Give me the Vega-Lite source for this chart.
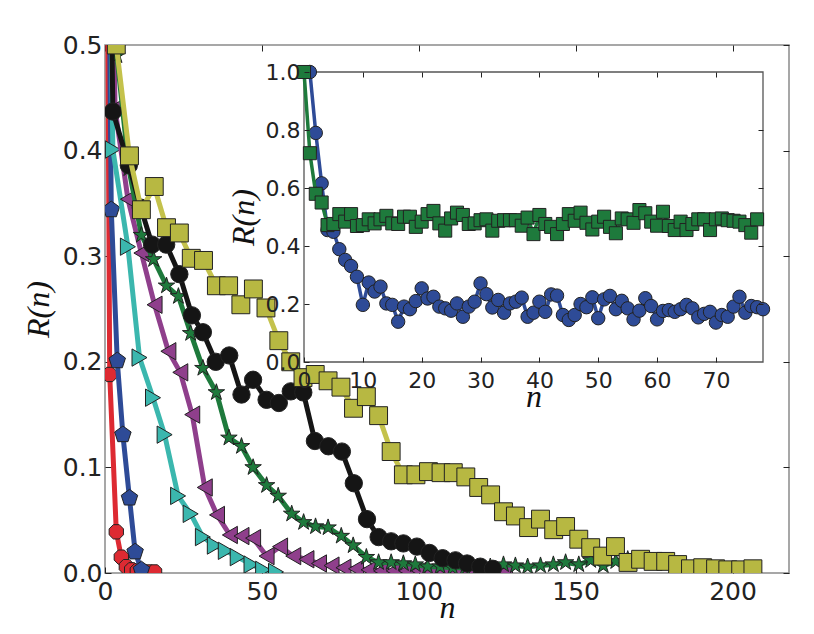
{
  "$schema": "https://vega.github.io/schema/vega-lite/v6.json",
  "width": 684,
  "height": 528,
  "autosize": "none",
  "padding": {"left": 105, "top": 45, "right": 25, "bottom": 61},
  "background": "white",
  "config": {
    "view": {"stroke": "#8a8a8a", "strokeWidth": 1.5},
    "axis": {
      "grid": false,
      "domain": false,
      "labelFont": "DejaVu Sans",
      "labelColor": "#222",
      "labelFlush": false,
      "labelOverlap": false,
      "tickColor": "#222",
      "tickWidth": 1,
      "titleFont": "Liberation Serif",
      "titleFontStyle": "italic",
      "titleFontWeight": "normal",
      "titleColor": "#111"
    }
  },
  "datasets": {
    "main": [
      {"s": "red", "n": 0, "R": 1}, {"s": "red", "n": 1.5, "R": 0.188}, {"s": "red", "n": 3.6, "R": 0.039}, {"s": "red", "n": 5.2, "R": 0.015}, {"s": "red", "n": 6.8, "R": 0.006}, {"s": "red", "n": 8.5, "R": 0.003}, {"s": "red", "n": 10.3, "R": 0.002}, {"s": "red", "n": 12.1, "R": 0.001}, {"s": "red", "n": 14, "R": 0.001}, {"s": "red", "n": 15.8, "R": 0.001},
      {"s": "blue", "n": 0, "R": 1}, {"s": "blue", "n": 2.0, "R": 0.344}, {"s": "blue", "n": 3.9, "R": 0.201}, {"s": "blue", "n": 5.7, "R": 0.131}, {"s": "blue", "n": 7.8, "R": 0.071}, {"s": "blue", "n": 9.6, "R": 0.02}, {"s": "blue", "n": 11.6, "R": 0.003},
      {"s": "cyan", "n": 0, "R": 1}, {"s": "cyan", "n": 2.5, "R": 0.401}, {"s": "cyan", "n": 7.3, "R": 0.309}, {"s": "cyan", "n": 11.0, "R": 0.204}, {"s": "cyan", "n": 15.3, "R": 0.166}, {"s": "cyan", "n": 19.0, "R": 0.131}, {"s": "cyan", "n": 23.3, "R": 0.073}, {"s": "cyan", "n": 27.3, "R": 0.056}, {"s": "cyan", "n": 31.2, "R": 0.034}, {"s": "cyan", "n": 35.0, "R": 0.026}, {"s": "cyan", "n": 38.5, "R": 0.021}, {"s": "cyan", "n": 42.3, "R": 0.015}, {"s": "cyan", "n": 46.7, "R": 0.008}, {"s": "cyan", "n": 50.4, "R": 0.003}, {"s": "cyan", "n": 54.5, "R": 0.001},
      {"s": "purple", "n": 0, "R": 1}, {"s": "purple", "n": 3.2, "R": 0.44}, {"s": "purple", "n": 7.3, "R": 0.354}, {"s": "purple", "n": 11.6, "R": 0.303}, {"s": "purple", "n": 15.8, "R": 0.254}, {"s": "purple", "n": 20.2, "R": 0.21}, {"s": "purple", "n": 24.0, "R": 0.19}, {"s": "purple", "n": 27.8, "R": 0.15}, {"s": "purple", "n": 31.8, "R": 0.081}, {"s": "purple", "n": 35.7, "R": 0.055}, {"s": "purple", "n": 39.8, "R": 0.036}, {"s": "purple", "n": 43.5, "R": 0.035}, {"s": "purple", "n": 47.2, "R": 0.033}, {"s": "purple", "n": 51.5, "R": 0.016}, {"s": "purple", "n": 55.8, "R": 0.025}, {"s": "purple", "n": 60.0, "R": 0.016}, {"s": "purple", "n": 64.2, "R": 0.013}, {"s": "purple", "n": 68.2, "R": 0.009}, {"s": "purple", "n": 72.2, "R": 0.007}, {"s": "purple", "n": 76.0, "R": 0.005}, {"s": "purple", "n": 80.0, "R": 0.004}, {"s": "purple", "n": 84.0, "R": 0.003}, {"s": "purple", "n": 88.0, "R": 0.002}, {"s": "purple", "n": 92.0, "R": 0.002}, {"s": "purple", "n": 96.0, "R": 0.002}, {"s": "purple", "n": 100.0, "R": 0.002}, {"s": "purple", "n": 104.0, "R": 0.001}, {"s": "purple", "n": 108.0, "R": 0.001}, {"s": "purple", "n": 112.0, "R": 0.001}, {"s": "purple", "n": 116.0, "R": 0.001}, {"s": "purple", "n": 120.0, "R": 0.001}, {"s": "purple", "n": 124.0, "R": 0.001}, {"s": "purple", "n": 127.5, "R": 0.001},
      {"s": "green", "n": 0, "R": 1}, {"s": "green", "n": 3.8, "R": 0.49}, {"s": "green", "n": 7.6, "R": 0.383}, {"s": "green", "n": 11.6, "R": 0.32}, {"s": "green", "n": 15.5, "R": 0.297}, {"s": "green", "n": 19.6, "R": 0.272}, {"s": "green", "n": 23.4, "R": 0.262}, {"s": "green", "n": 27.3, "R": 0.227}, {"s": "green", "n": 31.2, "R": 0.194}, {"s": "green", "n": 35.5, "R": 0.171}, {"s": "green", "n": 39.5, "R": 0.128}, {"s": "green", "n": 43.5, "R": 0.12}, {"s": "green", "n": 47.2, "R": 0.1}, {"s": "green", "n": 51.5, "R": 0.083}, {"s": "green", "n": 55.2, "R": 0.073}, {"s": "green", "n": 59.5, "R": 0.056}, {"s": "green", "n": 63.3, "R": 0.048}, {"s": "green", "n": 67.1, "R": 0.044}, {"s": "green", "n": 71.1, "R": 0.043}, {"s": "green", "n": 75.3, "R": 0.035}, {"s": "green", "n": 79.1, "R": 0.026}, {"s": "green", "n": 83.3, "R": 0.015}, {"s": "green", "n": 87.2, "R": 0.01}, {"s": "green", "n": 91.2, "R": 0.01}, {"s": "green", "n": 95.1, "R": 0.009}, {"s": "green", "n": 98.9, "R": 0.008}, {"s": "green", "n": 102.8, "R": 0.006}, {"s": "green", "n": 106.8, "R": 0.006}, {"s": "green", "n": 110.8, "R": 0.005}, {"s": "green", "n": 114.8, "R": 0.005}, {"s": "green", "n": 118.8, "R": 0.005}, {"s": "green", "n": 122.8, "R": 0.006}, {"s": "green", "n": 127.0, "R": 0.008}, {"s": "green", "n": 130.8, "R": 0.007}, {"s": "green", "n": 134.7, "R": 0.006}, {"s": "green", "n": 138.8, "R": 0.007}, {"s": "green", "n": 142.9, "R": 0.008}, {"s": "green", "n": 146.8, "R": 0.01}, {"s": "green", "n": 151.0, "R": 0.008}, {"s": "green", "n": 154.8, "R": 0.012}, {"s": "green", "n": 158.8, "R": 0.007}, {"s": "green", "n": 162.8, "R": 0.011}, {"s": "green", "n": 166.6, "R": 0.013},
      {"s": "black", "n": 0, "R": 1}, {"s": "black", "n": 2.5, "R": 0.437}, {"s": "black", "n": 7.6, "R": 0.386}, {"s": "black", "n": 11.4, "R": 0.346}, {"s": "black", "n": 15.0, "R": 0.311}, {"s": "black", "n": 19.5, "R": 0.311}, {"s": "black", "n": 23.7, "R": 0.283}, {"s": "black", "n": 27.7, "R": 0.244}, {"s": "black", "n": 31.2, "R": 0.228}, {"s": "black", "n": 35.3, "R": 0.2}, {"s": "black", "n": 39.6, "R": 0.206}, {"s": "black", "n": 43.5, "R": 0.169}, {"s": "black", "n": 47.2, "R": 0.183}, {"s": "black", "n": 51.5, "R": 0.164}, {"s": "black", "n": 55.4, "R": 0.161}, {"s": "black", "n": 59.2, "R": 0.172}, {"s": "black", "n": 63.2, "R": 0.171}, {"s": "black", "n": 66.9, "R": 0.125}, {"s": "black", "n": 71.2, "R": 0.12}, {"s": "black", "n": 75.5, "R": 0.115}, {"s": "black", "n": 79.3, "R": 0.085}, {"s": "black", "n": 83.5, "R": 0.051}, {"s": "black", "n": 87.2, "R": 0.034}, {"s": "black", "n": 91.2, "R": 0.03}, {"s": "black", "n": 95.1, "R": 0.028}, {"s": "black", "n": 99.4, "R": 0.025}, {"s": "black", "n": 103.4, "R": 0.019}, {"s": "black", "n": 107.6, "R": 0.014}, {"s": "black", "n": 111.7, "R": 0.012}, {"s": "black", "n": 115.4, "R": 0.009}, {"s": "black", "n": 119.6, "R": 0.006}, {"s": "black", "n": 123.6, "R": 0.004},
      {"s": "olive", "n": 0, "R": 1}, {"s": "olive", "n": 3.6, "R": 0.5}, {"s": "olive", "n": 7.8, "R": 0.395}, {"s": "olive", "n": 11.6, "R": 0.344}, {"s": "olive", "n": 15.7, "R": 0.366}, {"s": "olive", "n": 19.6, "R": 0.327}, {"s": "olive", "n": 23.7, "R": 0.322}, {"s": "olive", "n": 27.5, "R": 0.298}, {"s": "olive", "n": 31.4, "R": 0.296}, {"s": "olive", "n": 35.5, "R": 0.272}, {"s": "olive", "n": 39.4, "R": 0.272}, {"s": "olive", "n": 43.3, "R": 0.254}, {"s": "olive", "n": 47.3, "R": 0.269}, {"s": "olive", "n": 51.3, "R": 0.251}, {"s": "olive", "n": 55.4, "R": 0.22}, {"s": "olive", "n": 59.2, "R": 0.2}, {"s": "olive", "n": 63.1, "R": 0.185}, {"s": "olive", "n": 67.0, "R": 0.188}, {"s": "olive", "n": 71.1, "R": 0.182}, {"s": "olive", "n": 75.2, "R": 0.176}, {"s": "olive", "n": 79.2, "R": 0.156}, {"s": "olive", "n": 83.3, "R": 0.167}, {"s": "olive", "n": 87.2, "R": 0.149}, {"s": "olive", "n": 91.2, "R": 0.115}, {"s": "olive", "n": 95.1, "R": 0.093}, {"s": "olive", "n": 99.1, "R": 0.093}, {"s": "olive", "n": 103.1, "R": 0.096}, {"s": "olive", "n": 107.1, "R": 0.095}, {"s": "olive", "n": 111.0, "R": 0.095}, {"s": "olive", "n": 115.0, "R": 0.091}, {"s": "olive", "n": 119.1, "R": 0.081}, {"s": "olive", "n": 122.9, "R": 0.074}, {"s": "olive", "n": 127.0, "R": 0.058}, {"s": "olive", "n": 130.8, "R": 0.054}, {"s": "olive", "n": 135.0, "R": 0.043}, {"s": "olive", "n": 138.8, "R": 0.051}, {"s": "olive", "n": 143.0, "R": 0.041}, {"s": "olive", "n": 146.8, "R": 0.044}, {"s": "olive", "n": 151.0, "R": 0.032}, {"s": "olive", "n": 154.8, "R": 0.024}, {"s": "olive", "n": 158.6, "R": 0.016}, {"s": "olive", "n": 162.7, "R": 0.025}, {"s": "olive", "n": 166.7, "R": 0.01}, {"s": "olive", "n": 170.7, "R": 0.013}, {"s": "olive", "n": 174.7, "R": 0.011}, {"s": "olive", "n": 178.7, "R": 0.011}, {"s": "olive", "n": 182.5, "R": 0.008}, {"s": "olive", "n": 186.6, "R": 0.004}, {"s": "olive", "n": 190.5, "R": 0.005}, {"s": "olive", "n": 194.6, "R": 0.004}, {"s": "olive", "n": 198.5, "R": 0.003}, {"s": "olive", "n": 202.6, "R": 0.003}, {"s": "olive", "n": 206.5, "R": 0.004}
    ],
    "inset": [
      {"s": "g", "n": 0, "R": 1.0}, {"s": "g", "n": 1, "R": 0.72}, {"s": "g", "n": 2, "R": 0.58}, {"s": "g", "n": 3, "R": 0.55},
      {"s": "g", "n": 4, "R": 0.472}, {"s": "g", "n": 5, "R": 0.476}, {"s": "g", "n": 6, "R": 0.51}, {"s": "g", "n": 7, "R": 0.484}, {"s": "g", "n": 8, "R": 0.51}, {"s": "g", "n": 9, "R": 0.469}, {"s": "g", "n": 10, "R": 0.472}, {"s": "g", "n": 11, "R": 0.492}, {"s": "g", "n": 12, "R": 0.478}, {"s": "g", "n": 13, "R": 0.492},
      {"s": "g", "n": 14, "R": 0.504}, {"s": "g", "n": 15, "R": 0.478}, {"s": "g", "n": 16, "R": 0.476}, {"s": "g", "n": 17, "R": 0.501}, {"s": "g", "n": 18, "R": 0.501}, {"s": "g", "n": 19, "R": 0.466}, {"s": "g", "n": 20, "R": 0.484}, {"s": "g", "n": 21, "R": 0.51}, {"s": "g", "n": 22, "R": 0.521}, {"s": "g", "n": 23, "R": 0.478},
      {"s": "g", "n": 24, "R": 0.453}, {"s": "g", "n": 25, "R": 0.495}, {"s": "g", "n": 26, "R": 0.515}, {"s": "g", "n": 27, "R": 0.507}, {"s": "g", "n": 28, "R": 0.476}, {"s": "g", "n": 29, "R": 0.478}, {"s": "g", "n": 30, "R": 0.489}, {"s": "g", "n": 31, "R": 0.492}, {"s": "g", "n": 32, "R": 0.453}, {"s": "g", "n": 33, "R": 0.487},
      {"s": "g", "n": 34, "R": 0.489}, {"s": "g", "n": 35, "R": 0.489}, {"s": "g", "n": 36, "R": 0.489}, {"s": "g", "n": 37, "R": 0.47}, {"s": "g", "n": 38, "R": 0.498}, {"s": "g", "n": 39, "R": 0.441}, {"s": "g", "n": 40, "R": 0.507}, {"s": "g", "n": 41, "R": 0.476}, {"s": "g", "n": 42, "R": 0.466}, {"s": "g", "n": 43, "R": 0.441},
      {"s": "g", "n": 44, "R": 0.476}, {"s": "g", "n": 45, "R": 0.51}, {"s": "g", "n": 46, "R": 0.487}, {"s": "g", "n": 47, "R": 0.515}, {"s": "g", "n": 48, "R": 0.48}, {"s": "g", "n": 49, "R": 0.457}, {"s": "g", "n": 50, "R": 0.484}, {"s": "g", "n": 51, "R": 0.501}, {"s": "g", "n": 52, "R": 0.466}, {"s": "g", "n": 53, "R": 0.444},
      {"s": "g", "n": 54, "R": 0.495}, {"s": "g", "n": 55, "R": 0.492}, {"s": "g", "n": 56, "R": 0.48}, {"s": "g", "n": 57, "R": 0.524}, {"s": "g", "n": 58, "R": 0.513}, {"s": "g", "n": 59, "R": 0.484}, {"s": "g", "n": 60, "R": 0.47}, {"s": "g", "n": 61, "R": 0.518}, {"s": "g", "n": 62, "R": 0.469}, {"s": "g", "n": 63, "R": 0.455},
      {"s": "g", "n": 64, "R": 0.484}, {"s": "g", "n": 65, "R": 0.455}, {"s": "g", "n": 66, "R": 0.476}, {"s": "g", "n": 67, "R": 0.492}, {"s": "g", "n": 68, "R": 0.492}, {"s": "g", "n": 69, "R": 0.455}, {"s": "g", "n": 70, "R": 0.492}, {"s": "g", "n": 71, "R": 0.495}, {"s": "g", "n": 72, "R": 0.489}, {"s": "g", "n": 73, "R": 0.487},
      {"s": "g", "n": 74, "R": 0.484}, {"s": "g", "n": 75, "R": 0.472}, {"s": "g", "n": 76, "R": 0.446}, {"s": "g", "n": 77, "R": 0.492},
      {"s": "b", "n": 1, "R": 1.0}, {"s": "b", "n": 2, "R": 0.79}, {"s": "b", "n": 3, "R": 0.616}, {"s": "b", "n": 4, "R": 0.455}, {"s": "b", "n": 5, "R": 0.449}, {"s": "b", "n": 6, "R": 0.389}, {"s": "b", "n": 7, "R": 0.352}, {"s": "b", "n": 8, "R": 0.331}, {"s": "b", "n": 9, "R": 0.294}, {"s": "b", "n": 10, "R": 0.197},
      {"s": "b", "n": 11, "R": 0.274}, {"s": "b", "n": 12, "R": 0.243}, {"s": "b", "n": 13, "R": 0.26}, {"s": "b", "n": 14, "R": 0.202}, {"s": "b", "n": 15, "R": 0.197}, {"s": "b", "n": 16, "R": 0.139}, {"s": "b", "n": 17, "R": 0.191}, {"s": "b", "n": 18, "R": 0.182}, {"s": "b", "n": 19, "R": 0.21}, {"s": "b", "n": 20, "R": 0.254},
      {"s": "b", "n": 21, "R": 0.219}, {"s": "b", "n": 22, "R": 0.225}, {"s": "b", "n": 23, "R": 0.191}, {"s": "b", "n": 24, "R": 0.185}, {"s": "b", "n": 25, "R": 0.177}, {"s": "b", "n": 26, "R": 0.202}, {"s": "b", "n": 27, "R": 0.156}, {"s": "b", "n": 28, "R": 0.191}, {"s": "b", "n": 29, "R": 0.208}, {"s": "b", "n": 30, "R": 0.271},
      {"s": "b", "n": 31, "R": 0.234}, {"s": "b", "n": 32, "R": 0.188}, {"s": "b", "n": 33, "R": 0.214}, {"s": "b", "n": 34, "R": 0.17}, {"s": "b", "n": 35, "R": 0.202}, {"s": "b", "n": 36, "R": 0.208}, {"s": "b", "n": 37, "R": 0.222}, {"s": "b", "n": 38, "R": 0.156}, {"s": "b", "n": 39, "R": 0.17}, {"s": "b", "n": 40, "R": 0.208},
      {"s": "b", "n": 41, "R": 0.173}, {"s": "b", "n": 42, "R": 0.233}, {"s": "b", "n": 43, "R": 0.229}, {"s": "b", "n": 44, "R": 0.162}, {"s": "b", "n": 45, "R": 0.145}, {"s": "b", "n": 46, "R": 0.162}, {"s": "b", "n": 47, "R": 0.2}, {"s": "b", "n": 48, "R": 0.189}, {"s": "b", "n": 49, "R": 0.223}, {"s": "b", "n": 50, "R": 0.151},
      {"s": "b", "n": 51, "R": 0.216}, {"s": "b", "n": 52, "R": 0.228}, {"s": "b", "n": 53, "R": 0.182}, {"s": "b", "n": 54, "R": 0.211}, {"s": "b", "n": 55, "R": 0.185}, {"s": "b", "n": 56, "R": 0.147}, {"s": "b", "n": 57, "R": 0.177}, {"s": "b", "n": 58, "R": 0.22}, {"s": "b", "n": 59, "R": 0.193}, {"s": "b", "n": 60, "R": 0.147},
      {"s": "b", "n": 61, "R": 0.176}, {"s": "b", "n": 62, "R": 0.179}, {"s": "b", "n": 63, "R": 0.173}, {"s": "b", "n": 64, "R": 0.182}, {"s": "b", "n": 65, "R": 0.197}, {"s": "b", "n": 66, "R": 0.185}, {"s": "b", "n": 67, "R": 0.154}, {"s": "b", "n": 68, "R": 0.166}, {"s": "b", "n": 69, "R": 0.173}, {"s": "b", "n": 70, "R": 0.136},
      {"s": "b", "n": 71, "R": 0.162}, {"s": "b", "n": 72, "R": 0.156}, {"s": "b", "n": 73, "R": 0.191}, {"s": "b", "n": 74, "R": 0.225}, {"s": "b", "n": 75, "R": 0.17}, {"s": "b", "n": 76, "R": 0.193}, {"s": "b", "n": 77, "R": 0.189}, {"s": "b", "n": 78, "R": 0.182}
    ]
  },
  "layer": [
    {
      "data": {"name": "main"},
      "encoding": {
        "x": {
          "field": "n", "type": "quantitative",
          "scale": {"domain": [0, 218], "nice": false, "zero": false},
          "axis": {"values": [0, 50, 100, 150, 200], "tickSize": -6, "labelPadding": 12, "labelFontSize": 25, "title": "n", "titleFontSize": 32, "titlePadding": -12}
        },
        "y": {
          "field": "R", "type": "quantitative",
          "scale": {"domain": [0, 0.5], "nice": false, "zero": false},
          "axis": {"values": [0, 0.1, 0.2, 0.3, 0.4, 0.5], "format": ".1f", "tickSize": -6, "labelPadding": 9, "labelFontSize": 25, "title": "R(n)", "titleFontSize": 32, "titlePadding": 7}
        }
      },
      "layer": [
        {"transform": [{"filter": "datum.s == 'red'"}], "mark": {"type": "line", "clip": true, "color": "#dd2a32", "strokeWidth": 5, "strokeJoin": "round", "point": {"clip": true, "shape": "M-0.383,-0.924L0.383,-0.924L0.924,-0.383L0.924,0.383L0.383,0.924L-0.383,0.924L-0.924,0.383L-0.924,-0.383Z", "size": 240, "filled": true, "fill": "#dd2a32", "stroke": "#222", "strokeWidth": 1, "opacity": 1}}},
        {"transform": [{"filter": "datum.s == 'blue'"}], "mark": {"type": "line", "clip": true, "color": "#2e4b97", "strokeWidth": 5, "strokeJoin": "round", "point": {"clip": true, "shape": "M0,-1L0.951,-0.309L0.588,0.809L-0.588,0.809L-0.951,-0.309Z", "size": 300, "filled": true, "fill": "#2e4b97", "stroke": "#222", "strokeWidth": 1, "opacity": 1}}},
        {"transform": [{"filter": "datum.s == 'cyan'"}], "mark": {"type": "line", "clip": true, "color": "#3bb7ae", "strokeWidth": 5, "strokeJoin": "round", "point": {"clip": true, "shape": "triangle-right", "size": 300, "filled": true, "fill": "#3bb7ae", "stroke": "#222", "strokeWidth": 1, "opacity": 1}}},
        {"transform": [{"filter": "datum.s == 'purple'"}], "mark": {"type": "line", "clip": true, "color": "#8f3f8c", "strokeWidth": 5, "strokeJoin": "round", "point": {"clip": true, "shape": "triangle-left", "size": 300, "filled": true, "fill": "#8f3f8c", "stroke": "#222", "strokeWidth": 1, "opacity": 1}}},
        {"transform": [{"filter": "datum.s == 'green'"}], "mark": {"type": "line", "clip": true, "color": "#1e7a3c", "strokeWidth": 5, "strokeJoin": "round", "point": {"clip": true, "shape": "M0,-1L0.224,-0.309L0.951,-0.309L0.363,0.118L0.588,0.809L0,0.382L-0.588,0.809L-0.363,0.118L-0.951,-0.309L-0.224,-0.309Z", "size": 300, "filled": true, "fill": "#1e7a3c", "stroke": "#222", "strokeWidth": 1, "opacity": 1}}},
        {"transform": [{"filter": "datum.s == 'black'"}], "mark": {"type": "line", "clip": true, "color": "#151515", "strokeWidth": 5, "strokeJoin": "round", "point": {"clip": true, "shape": "circle", "size": 300, "filled": true, "fill": "#151515", "stroke": "#222", "strokeWidth": 1, "opacity": 1}}},
        {"transform": [{"filter": "datum.s == 'olive'"}], "mark": {"type": "line", "clip": true, "color": "#c4c24c", "strokeWidth": 5, "strokeJoin": "round", "point": {"clip": true, "shape": "square", "size": 320, "filled": true, "fill": "#b7b842", "stroke": "#222", "strokeWidth": 1, "opacity": 1}}}
      ]
    },
    {
      "data": {"name": "main"},
      "mark": {"type": "point", "opacity": 0},
      "encoding": {
        "x": {
          "field": "n", "type": "quantitative",
          "scale": {"domain": [0, 218], "nice": false, "zero": false},
          "axis": {"orient": "top", "values": [0, 50, 100, 150, 200], "labels": false, "tickSize": -6, "title": null}
        },
        "y": {
          "field": "R", "type": "quantitative",
          "scale": {"domain": [0, 0.5], "nice": false, "zero": false},
          "axis": {"orient": "right", "values": [0, 0.1, 0.2, 0.3, 0.4, 0.5], "labels": false, "tickSize": -6, "title": null}
        }
      }
    },
    {
      "encoding": {
        "x": {
          "field": "n", "type": "quantitative",
          "scale": {"domain": [0, 78], "nice": false, "zero": false, "range": [199, 658]},
          "axis": {"orient": "bottom", "offset": -211, "zindex": 1, "values": [0, 10, 20, 30, 40, 50, 60, 70], "tickSize": -5, "labelPadding": 13, "labelFontSize": 22, "title": "n", "titleFontSize": 32, "titlePadding": -10}
        },
        "y": {
          "field": "R", "type": "quantitative",
          "scale": {"domain": [0, 1], "nice": false, "zero": false, "range": [317, 27]},
          "axis": {"orient": "left", "offset": -199, "zindex": 1, "values": [0, 0.2, 0.4, 0.6, 0.8, 1.0], "format": ".1f", "tickSize": -5, "labelPadding": 9, "labelFontSize": 22, "title": "R(n)", "titleFontSize": 32, "titlePadding": 5}
        }
      },
      "layer": [
        {"data": {"values": [{"n": 0, "n2": 78, "R": 0, "R2": 1}]}, "mark": {"type": "rect", "fill": "white", "stroke": "#555", "strokeWidth": 1.3}, "encoding": {"x2": {"field": "n2"}, "y2": {"field": "R2"}}},
        {"data": {"name": "inset"}, "transform": [{"filter": "datum.s == 'b'"}], "mark": {"type": "line", "clip": true, "color": "#2e4b97", "strokeWidth": 3.5, "strokeJoin": "round", "point": {"shape": "circle", "size": 180, "filled": true, "fill": "#2e4b97", "stroke": "#222", "strokeWidth": 1, "opacity": 1}}},
        {"data": {"name": "inset"}, "transform": [{"filter": "datum.s == 'g'"}], "mark": {"type": "line", "clip": true, "color": "#1e7a3c", "strokeWidth": 3.5, "strokeJoin": "round", "point": {"shape": "square", "size": 170, "filled": true, "fill": "#1e7a3c", "stroke": "#222", "strokeWidth": 1, "opacity": 1}}}
      ]
    },
    {
      "data": {"name": "inset"},
      "mark": {"type": "point", "opacity": 0},
      "encoding": {
        "x": {
          "field": "n", "type": "quantitative",
          "scale": {"domain": [0, 78], "nice": false, "zero": false, "range": [199, 658]},
          "axis": {"orient": "top", "offset": -27, "zindex": 1, "values": [10, 20, 30, 40, 50, 60, 70], "labels": false, "tickSize": -5, "title": null}
        },
        "y": {
          "field": "R", "type": "quantitative",
          "scale": {"domain": [0, 1], "nice": false, "zero": false, "range": [317, 27]},
          "axis": {"orient": "right", "offset": -26, "zindex": 1, "values": [0.2, 0.4, 0.6, 0.8], "labels": false, "tickSize": -5, "title": null}
        }
      }
    }
  ],
  "resolve": {"scale": {"x": "independent", "y": "independent"}, "axis": {"x": "independent", "y": "independent"}}
}
